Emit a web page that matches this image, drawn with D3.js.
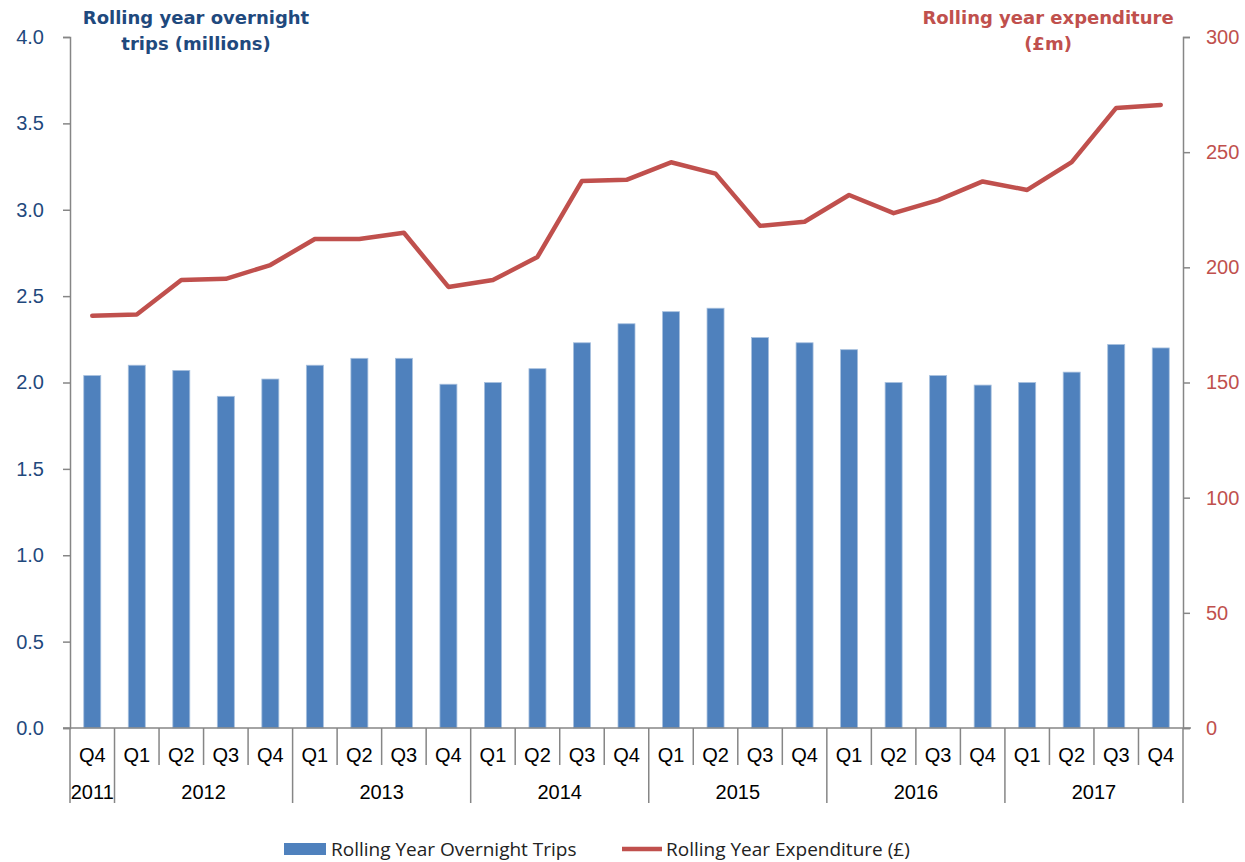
<!DOCTYPE html>
<html>
<head>
<meta charset="utf-8">
<script src="https://cdn.jsdelivr.net/npm/d3@7"></script>
<style>
  body { margin: 0; background: #fff; }
  svg { display: block; font-family: "Liberation Sans", Arial, sans-serif; }
</style>
</head>
<body>
<svg width="1245" height="862"></svg>
<script>
// quarters and the year each belongs to
const quarters = ['Q4', 'Q1', 'Q2', 'Q3', 'Q4', 'Q1', 'Q2', 'Q3', 'Q4', 'Q1', 'Q2', 'Q3', 'Q4',
  'Q1', 'Q2', 'Q3', 'Q4', 'Q1', 'Q2', 'Q3', 'Q4', 'Q1', 'Q2', 'Q3', 'Q4'];
const years = ['2011', '2012', '2013', '2014', '2015', '2016', '2017'];
const yearCounts = [1, 4, 4, 4, 4, 4, 4];

// rolling year overnight trips (millions)
const trips = [2.04, 2.10, 2.07, 1.92, 2.02, 2.10, 2.14, 2.14, 1.99, 2.00, 2.08, 2.23, 2.34,
  2.41, 2.43, 2.26, 2.23, 2.19, 2.00, 2.04, 1.985, 2.00, 2.06, 2.22, 2.20];
// rolling year expenditure (£m)
const spend = [179, 179.5, 194.5, 195, 201, 212.3, 212.3, 215, 191.5, 194.5, 204.5, 237.5, 238,
  245.6, 240.7, 218, 219.8, 231.4, 223.5, 229.2, 237.3, 233.6, 245.7, 269.2, 270.5];

const leftTicks = [0, 0.5, 1, 1.5, 2, 2.5, 3, 3.5, 4];
const rightTicks = [0, 50, 100, 150, 200, 250, 300];

const blue = '#4F81BD', red = '#C0504D', axisGrey = '#868686';
const leftCol = '#1F497D';
const tickFont = '"Liberation Sans", Arial, sans-serif';

const svg = d3.select('svg');
const plotL = 70, plotR = 1183, plotT = 37, plotB = 728;

const idx = d3.range(quarters.length);
const x = d3.scaleBand().domain(idx).range([plotL, plotR]);
const yL = d3.scaleLinear().domain([0, 4]).range([plotB, plotT]);
const yR = d3.scaleLinear().domain([0, 300]).range([plotB, plotT]);

// bars
svg.selectAll('.bar')
  .data(trips)
  .enter().append('rect')
  .attr('class', 'bar')
  .attr('x', (d, i) => x(i) + x.bandwidth() / 2 - 8.5)
  .attr('width', 17)
  .attr('y', d => yL(d))
  .attr('height', d => plotB - yL(d))
  .attr('fill', blue)
  .attr('stroke', '#A7C0DE')
  .attr('stroke-width', 0.8);

// left axis
const gL = svg.append('g').attr('transform', `translate(${plotL},0)`)
  .call(d3.axisLeft(yL).tickValues(leftTicks).tickFormat(d3.format('.1f')).tickSize(7).tickPadding(19));
gL.select('.domain').attr('stroke', axisGrey).attr('stroke-width', 1.5);
gL.selectAll('.tick line').attr('stroke', axisGrey).attr('stroke-width', 1.5);
gL.selectAll('.tick text').attr('fill', leftCol).attr('font-size', 20).attr('font-family', tickFont);

// right axis
const gR = svg.append('g').attr('transform', `translate(${plotR},0)`)
  .call(d3.axisRight(yR).tickValues(rightTicks).tickSize(7).tickPadding(16));
gR.select('.domain').attr('stroke', axisGrey).attr('stroke-width', 1.5);
gR.selectAll('.tick line').attr('stroke', axisGrey).attr('stroke-width', 1.5);
gR.selectAll('.tick text').attr('fill', red).attr('font-size', 20).attr('font-family', tickFont);

// baseline
svg.append('line')
  .attr('x1', plotL - 7).attr('x2', plotR + 8)
  .attr('y1', plotB).attr('y2', plotB)
  .attr('stroke', axisGrey).attr('stroke-width', 1.5);

// category separators
const qBound = d3.range(quarters.length + 1);
let cum = 0;
const yearStarts = new Set([0]);
yearCounts.forEach(c => { cum += c; yearStarts.add(cum); });
svg.selectAll('.sep')
  .data(qBound)
  .enter().append('line')
  .attr('x1', i => plotL + i * x.step())
  .attr('x2', i => plotL + i * x.step())
  .attr('y1', plotB)
  .attr('y2', i => yearStarts.has(i) ? 803 : 765)
  .attr('stroke', axisGrey).attr('stroke-width', 1.5);

// quarter labels
svg.selectAll('.qlab')
  .data(quarters)
  .enter().append('text')
  .attr('x', (d, i) => x(i) + x.bandwidth() / 2)
  .attr('y', 762)
  .attr('text-anchor', 'middle')
  .attr('font-size', 20)
  .attr('fill', '#000')
  .text(d => d);

// year labels
let start = 0;
years.forEach((yr, k) => {
  const n = yearCounts[k];
  svg.append('text')
    .attr('x', plotL + (start + n / 2) * x.step())
    .attr('y', 799)
    .attr('text-anchor', 'middle')
    .attr('font-size', 20)
    .attr('fill', '#000')
    .text(yr);
  start += n;
});

// expenditure line
const line = d3.line()
  .x((d, i) => x(i) + x.bandwidth() / 2)
  .y(d => yR(d));
svg.append('path')
  .datum(spend)
  .attr('d', line)
  .attr('fill', 'none')
  .attr('stroke', red)
  .attr('stroke-width', 4.5)
  .attr('stroke-linejoin', 'round')
  .attr('stroke-linecap', 'round');

// axis titles
const titleFont = '"DejaVu Sans", sans-serif';
const titleL = svg.append('text').attr('text-anchor', 'middle').attr('font-family', titleFont)
  .attr('font-size', 18).attr('font-weight', 'bold').attr('fill', leftCol);
titleL.append('tspan').attr('x', 196).attr('y', 24).text('Rolling year overnight');
titleL.append('tspan').attr('x', 196).attr('y', 50).text('trips (millions)');

const titleR = svg.append('text').attr('text-anchor', 'middle').attr('font-family', titleFont)
  .attr('font-size', 18).attr('font-weight', 'bold').attr('fill', red);
titleR.append('tspan').attr('x', 1048).attr('y', 24).text('Rolling year expenditure');
titleR.append('tspan').attr('x', 1048).attr('y', 50).text('(£m)');

// legend
const lg = svg.append('g').attr('font-family', '"Open Sans", sans-serif').attr('font-size', 19).attr('fill', '#222');
lg.append('rect').attr('x', 284).attr('y', 843).attr('width', 42).attr('height', 12).attr('fill', blue);
lg.append('text').attr('x', 331).attr('y', 856).text('Rolling Year Overnight Trips');
lg.append('line').attr('x1', 622).attr('x2', 662).attr('y1', 849).attr('y2', 849)
  .attr('stroke', red).attr('stroke-width', 4.5);
lg.append('text').attr('x', 666).attr('y', 856).text('Rolling Year Expenditure (£)');
</script>
</body>
</html>
